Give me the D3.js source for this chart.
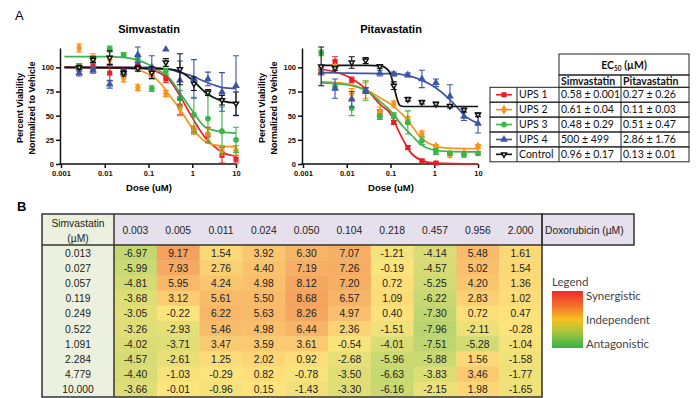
<!DOCTYPE html>
<html>
<head>
<meta charset="utf-8">
<script src="https://cdn.jsdelivr.net/npm/d3@7"></script>
<style>
  body { margin: 0; background: #fff; }
  svg { display: block; }
</style>
</head>
<body>
<svg width="696" height="398"></svg>
<script>
// ---- data ----
const doses = [0.0026, 0.0054, 0.013, 0.027, 0.057, 0.119, 0.249, 0.522, 1.091, 2.284, 4.779, 10]
const seriesNames = ["UPS 1", "UPS 2", "UPS 3", "UPS 4", "Control"]
const ec50Simva = ["0.58 ± 0.001", "0.61 ± 0.04", "0.48 ± 0.29", "500 ± 499", "0.96 ± 0.17"]
const ec50Pita = ["0.27 ± 0.26", "0.11 ± 0.03", "0.51 ± 0.47", "2.86 ± 1.76", "0.13 ± 0.01"]

const simvaMeans = [
    [100, 104, 94, 95, 102, 94, 88, 60, 35, 30, 9, 5],
    [120, 109, 108, 89, 79, 93, 73, 58, 35, 31, 14, 14],
    [101, 108, 119, 113, 109, 78, 96, 68, 51, 47, 34, 25],
    [94, 97, 82.5, 95, 113, 100, 118.6, 86.5, 88, 88, 74.5, 81],
    [100, 108, 110, 94, 99, 94.5, 105, 98, 83, 74, 66, 62.5]
]
const simvaErrs = [
    [4, 6, 8, 3, 4, 3, 4, 9, 4, 8, 8, 4],
    [4, 5, 4, 4, 3, 3, 3, 8, 4, 6, 5, 5],
    [3, 4, 3, 2, 3, 3, 3, 8, 18, 25, 25, 13],
    [3, 3, 4, 2, 8, 12, 0, 20, 20, 7, 20, 31],
    [2, 3, 7, 3, 3, 6, 4, 16, 7, 3, 5, 12]
]
const simvaFits = [
    [[0.0012, 100], [0.03, 100], [0.1, 98], [0.2, 93], [0.3, 87], [0.5, 72], [1, 48], [2, 27], [3, 19], [5, 12], [10, 8]],
    [[0.0012, 100], [0.03, 99], [0.1, 93], [0.2, 82], [0.3, 71], [0.5, 58], [1, 37], [2, 23], [3, 20], [5, 18.5], [10, 18]],
    [[0.0012, 111], [0.01, 111], [0.03, 110], [0.1, 103], [0.2, 95], [0.3, 89], [0.5, 75], [1, 55], [2, 38], [3, 35], [5, 33], [10, 32]],
    [[0.0012, 100], [0.1, 100], [0.2, 99], [0.3, 98], [0.5, 95], [1, 91], [2, 85], [3, 82], [5, 79], [10, 78]],
    [[0.0012, 100], [0.1, 99], [0.2, 98.5], [0.3, 98], [0.5, 96], [1, 87], [2, 74], [3, 69], [5, 65], [10, 63]]
]

const pitaMeans = [
    [97, 106, 87, 76, 53, 43, 17, 3, 1, null, null, null],
    [97, 100, 73, 76, 54, 62, 46, 31, 18, 10, 11, 18],
    [115, 80, 58, 76, 49, 50, 43, 24, 13, 11, 10, 11],
    [95, 78, 67, 76, 94, 93, 92, 88, 84, 70, 49, 42],
    [101, 99, 105, 107, 101, 81, 67, 64, 62, 60, 56, 51]
]
const pitaErrs = [
    [3, 5, 3, 3, 3, 2, 2, 2, 1, 0, 0, 0],
    [3, 3, 5, 8, 5, 3, 3, 3, 2, 3, 2, 2],
    [3, 3, 8, 10, 3, 3, 12, 4, 3, 2, 3, 2],
    [3, 10, 8, 3, 3, 2, 2, 9, 4, 12, 4, 10],
    [20, 2, 6, 3, 2, 4, 2, 2, 2, 1, 2, 2]
]
const pitaFits = [
    [[0.0026, 98], [0.01, 91], [0.03, 76], [0.06, 61], [0.1, 52], [0.12, 45], [0.15, 35], [0.2, 24], [0.3, 11], [0.5, 4], [1, 1], [10, 0]],
    [[0.0026, 85], [0.01, 83], [0.03, 76], [0.06, 68], [0.1, 62], [0.2, 50], [0.3, 40], [0.5, 27], [1, 19], [2, 16.5], [10, 16]],
    [[0.0026, 84], [0.01, 82], [0.03, 75], [0.06, 64], [0.1, 55], [0.2, 38], [0.3, 30], [0.5, 20], [1, 14.5], [2, 13], [10, 12.5]],
    [[0.0026, 94.5], [0.01, 94], [0.1, 93.5], [0.25, 91.5], [0.5, 87], [1, 80], [2, 69], [3, 61], [5, 50], [10, 42]],
    [[0.0026, 102], [0.03, 102], [0.06, 101.5], [0.08, 99], [0.1, 93], [0.12, 80], [0.14, 68], [0.165, 60.5], [0.2, 59.5], [10, 59.5]]
]

const yTicks = [0, 25, 50, 75, 100]
const xTicks = [0.001, 0.01, 0.1, 1, 10]

const doxoDoses = ["0.003", "0.005", "0.011", "0.024", "0.050", "0.104", "0.218", "0.457", "0.956", "2.000"]
const simvaDoses = ["0.013", "0.027", "0.057", "0.119", "0.249", "0.522", "1.091", "2.284", "4.779", "10.000"]
const comboIndex = [
    [-6.97, 9.17, 1.54, 3.92, 6.30, 7.07, -1.21, -4.14, 5.48, 1.61],
    [-5.99, 7.93, 2.76, 4.40, 7.19, 7.26, -0.19, -4.57, 5.02, 1.54],
    [-4.81, 5.95, 4.24, 4.98, 8.12, 7.20, 0.72, -5.25, 4.20, 1.36],
    [-3.68, 3.12, 5.61, 5.50, 8.68, 6.57, 1.09, -6.22, 2.83, 1.02],
    [-3.05, -0.22, 6.22, 5.63, 8.26, 4.97, 0.40, -7.30, 0.72, 0.47],
    [-3.26, -2.93, 5.46, 4.98, 6.44, 2.36, -1.51, -7.96, -2.11, -0.28],
    [-4.02, -3.71, 3.47, 3.59, 3.61, -0.54, -4.01, -7.51, -5.28, -1.04],
    [-4.57, -2.61, 1.25, 2.02, 0.92, -2.68, -5.96, -5.88, 1.56, -1.58],
    [-4.40, -1.03, -0.29, 0.82, -0.78, -3.50, -6.63, -3.83, 3.46, -1.77],
    [-3.66, -0.01, -0.96, 0.15, -1.43, -3.30, -6.16, -2.15, 1.98, -1.65]
]
const legendLabels = ["Synergistic", "Independent", "Antagonistic"]

// ---- styles ----
const colors = ["#ed1c24", "#f7941d", "#39b54a", "#3c55a5", "#111111"]
const shapes = [d3.symbolSquare, d3.symbolDiamond, d3.symbolCircle, d3.symbolTriangle, d3.symbolTriangle]
const armFont = "'Liberation Sans', Arial, sans-serif"
const calFont = "Lato, 'Open Sans', sans-serif"

const svg = d3.select("svg")

function addMarker(g, i, cx, cy) {
    const sym = g.append("path")
        .attr("d", d3.symbol().type(shapes[i]).size(i === 4 ? 11 : (i === 1 ? 30 : 26))())
    if (i === 4) {
        sym.attr("transform", `translate(${cx},${cy}) rotate(180)`)
            .attr("fill", "#fff").attr("stroke", colors[i]).attr("stroke-width", 1.5)
    } else {
        sym.attr("transform", `translate(${cx},${cy})`).attr("fill", colors[i])
    }
}

function drawPanel(left, title, means, errs, fits) {
    const g = svg.append("g")
    const x = d3.scaleLog().domain([0.001, 10]).range([left, left + 175])
    const y = d3.scaleLinear().domain([0, 120]).range([164, 48])

    const yAxis = g.append("g")
        .attr("transform", `translate(${left - 1},0)`)
        .call(d3.axisLeft(y).tickValues(yTicks).tickSize(4).tickPadding(2).tickSizeOuter(0))
    const xAxis = g.append("g")
        .attr("transform", `translate(0,164)`)
        .call(d3.axisBottom(x).tickValues(xTicks).tickFormat(d => String(d)).tickSize(4).tickPadding(3).tickSizeOuter(0))
    for (const ax of [yAxis, xAxis]) {
        ax.selectAll(".domain, line").attr("stroke", "#111").attr("stroke-width", 1.5)
        ax.selectAll("text").attr("font-family", armFont).attr("font-weight", "bold")
            .attr("font-size", 7.5).attr("fill", "#111")
    }
    xAxis.select(".domain").attr("d", `M${left - 1.7},0H${left + 175}`)

    g.append("text").attr("x", left + 88).attr("y", 33).attr("text-anchor", "middle")
        .attr("font-family", armFont).attr("font-weight", "bold").attr("font-size", 11).text(title)
    g.append("text").attr("x", left + 88).attr("y", 191).attr("text-anchor", "middle")
        .attr("font-family", armFont).attr("font-weight", "bold").attr("font-size", 9.5).text("Dose (uM)")
    const yl = g.append("text").attr("transform", `translate(${left - 38},108) rotate(-90)`)
        .attr("text-anchor", "middle").attr("font-family", armFont).attr("font-weight", "bold").attr("font-size", 9)
    yl.append("tspan").attr("x", 0).attr("y", 0).text("Percent Viability")
    yl.append("tspan").attr("x", 0).attr("y", 12).text("Normalized to Vehicle")

    const line = d3.line().x(d => x(d[0])).y(d => y(d[1])).curve(d3.curveMonotoneX)
    fits.forEach((f, i) => {
        g.append("path").attr("d", line(f)).attr("fill", "none")
            .attr("stroke", colors[i]).attr("stroke-width", 1.7)
    })
    means.forEach((m, i) => {
        const sg = g.append("g")
        m.forEach((v, k) => {
            if (v === null) return
            const e = errs[i][k]
            const cx = x(doses[k])
            if (e > 0) {
                const y1 = y(v - e), y2 = y(v + e)
                sg.append("path")
                    .attr("d", `M${cx},${y1}V${y2}M${cx - 3},${y1}H${cx + 3}M${cx - 3},${y2}H${cx + 3}`)
                    .attr("stroke", colors[i]).attr("stroke-width", 1.1).attr("fill", "none")
            }
            addMarker(sg, i, cx, y(v))
        })
    })
}

// panel labels
svg.append("text").attr("x", 15).attr("y", 20).attr("font-family", armFont).attr("font-size", 13).text("A")
svg.append("text").attr("x", 17).attr("y", 211).attr("font-family", armFont).attr("font-weight", "bold").attr("font-size", 13).text("B")

drawPanel(61, "Simvastatin", simvaMeans, simvaErrs, simvaFits)
drawPanel(303, "Pitavastatin", pitaMeans, pitaErrs, pitaFits)

// ---- EC50 table ----
const tA = svg.append("g").attr("font-family", calFont).attr("font-size", 10.5).attr("fill", "#111")
const colX = [490, 517, 559, 621, 689]
const rowTop = 87.3, rowH = 14.9
const bc = "#222"
tA.append("rect").attr("x", 559).attr("y", 54).attr("width", 130).attr("height", 21)
    .attr("fill", "none").attr("stroke", bc)
const ecT = tA.append("text").attr("x", 624).attr("y", 68.5).attr("text-anchor", "middle").attr("font-weight", "bold")
ecT.append("tspan").text("EC")
ecT.append("tspan").attr("font-size", 6.5).attr("dy", 2).text("50")
ecT.append("tspan").attr("dy", -2).text(" (µM)")
tA.append("rect").attr("x", 559).attr("y", 75).attr("width", 130).attr("height", rowTop - 75)
    .attr("fill", "none").attr("stroke", bc)
tA.append("line").attr("x1", 621).attr("x2", 621).attr("y1", 75).attr("y2", rowTop + rowH * 5).attr("stroke", bc)
tA.append("text").attr("x", 561).attr("y", 85).attr("font-weight", "bold").text("Simvastatin")
tA.append("text").attr("x", 623).attr("y", 85).attr("font-weight", "bold").text("Pitavastatin")
seriesNames.forEach((name, i) => {
    const top = rowTop + i * rowH
    tA.append("rect").attr("x", colX[0]).attr("y", top).attr("width", colX[4] - colX[0]).attr("height", rowH)
        .attr("fill", "none").attr("stroke", bc)
    const cy = top + rowH / 2
    tA.append("line").attr("x1", 496).attr("x2", 512).attr("y1", cy).attr("y2", cy)
        .attr("stroke", colors[i]).attr("stroke-width", 1.6)
    addMarker(tA, i, 504, cy)
    tA.append("text").attr("x", 519).attr("y", top + 11).text(name)
    tA.append("text").attr("x", 561).attr("y", top + 11).text(ec50Simva[i])
    tA.append("text").attr("x", 623).attr("y", top + 11).text(ec50Pita[i])
})
for (const cx of [517, 559]) {
    tA.append("line").attr("x1", cx).attr("x2", cx).attr("y1", rowTop).attr("y2", rowTop + rowH * 5).attr("stroke", bc)
}

// ---- combination heat table ----
const hx = d3.scaleBand().domain(doxoDoses).range([114, 542])
const hy = d3.scaleBand().domain(simvaDoses).range([245, 397])
const color = d3.scaleLinear().domain([-8, 0, 9.2]).range(["#bad56f", "#fee47c", "#f4a05e"])
const hb = svg.append("g").attr("font-family", armFont).attr("font-size", 10.3).attr("fill", "#222")

hb.append("rect").attr("x", 42).attr("y", 214).attr("width", 72).attr("height", 183).attr("fill", "#ebf1de")
hb.append("rect").attr("x", 114).attr("y", 214).attr("width", 520).attr("height", 31).attr("fill", "#e5e0ec")
comboIndex.forEach((row, r) => {
    row.forEach((v, c) => {
        hb.append("rect").attr("x", hx(doxoDoses[c])).attr("y", hy(simvaDoses[r]))
            .attr("width", hx.bandwidth() + 0.5).attr("height", hy.bandwidth() + 0.5).attr("fill", color(v))
        hb.append("text").attr("x", hx(doxoDoses[c]) + hx.bandwidth() / 2).attr("y", hy(simvaDoses[r]) + 11.5)
            .attr("text-anchor", "middle").text(v.toFixed(2))
    })
})
simvaDoses.forEach(s => {
    hb.append("text").attr("x", 78).attr("y", hy(s) + 11.5).attr("text-anchor", "middle").text(s)
})
doxoDoses.forEach(d => {
    hb.append("text").attr("x", hx(d) + hx.bandwidth() / 2).attr("y", 234).attr("text-anchor", "middle").text(d)
})
hb.append("text").attr("x", 78).attr("y", 227).attr("text-anchor", "middle").text("Simvastatin")
hb.append("text").attr("x", 78).attr("y", 242).attr("text-anchor", "middle").text("(µM)")
hb.append("text").attr("x", 545).attr("y", 234).text("Doxorubicin (µM)")
hb.append("rect").attr("x", 42).attr("y", 214).attr("width", 500).attr("height", 183)
    .attr("fill", "none").attr("stroke", "#333").attr("stroke-width", 1.5)
hb.append("rect").attr("x", 542).attr("y", 214).attr("width", 92).attr("height", 31)
    .attr("fill", "none").attr("stroke", "#333").attr("stroke-width", 1.5)
hb.append("line").attr("x1", 42).attr("x2", 542).attr("y1", 245).attr("y2", 245).attr("stroke", "#333").attr("stroke-width", 1.5)
hb.append("line").attr("x1", 114).attr("x2", 114).attr("y1", 214).attr("y2", 397).attr("stroke", "#333").attr("stroke-width", 1.5)

// ---- legend ----
const grad = svg.append("defs").append("linearGradient").attr("id", "lg")
    .attr("x1", 0).attr("x2", 0).attr("y1", 0).attr("y2", 1)
const stops = [[0, "#ee2b2c"], [0.3, "#f47c2a"], [0.5, "#f8c220"], [0.72, "#a8c63d"], [1, "#34b34a"]]
stops.forEach(s => grad.append("stop").attr("offset", s[0]).attr("stop-color", s[1]))
const lg = svg.append("g").attr("font-family", calFont).attr("font-size", 11.5).attr("fill", "#444")
lg.append("text").attr("x", 552).attr("y", 286).text("Legend")
lg.append("rect").attr("x", 552).attr("y", 291).attr("width", 31).attr("height", 57).attr("fill", "url(#lg)")
legendLabels.forEach((t, i) => {
    lg.append("text").attr("x", 586).attr("y", 300 + i * 24).text(t)
})
</script>
</body>
</html>
